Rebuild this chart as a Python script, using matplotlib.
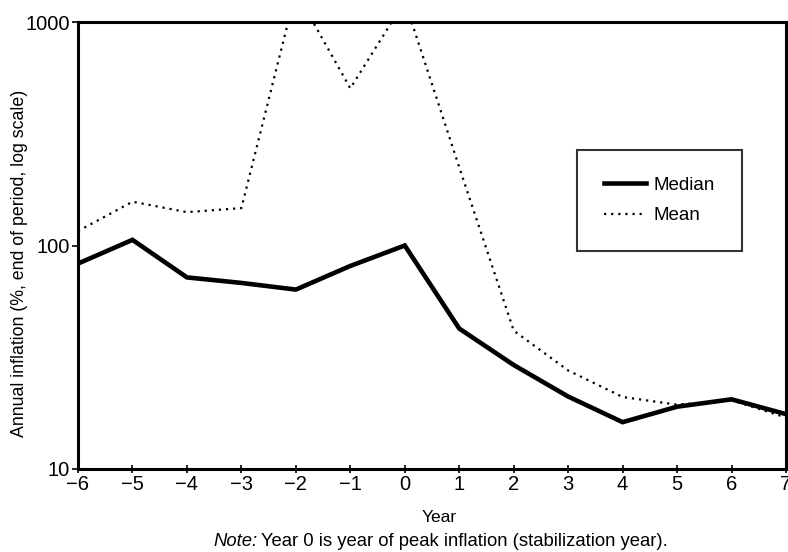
import matplotlib
matplotlib.use("Agg")
import matplotlib.pyplot as plt

years = [-6, -5, -4, -3, -2, -1, 0, 1, 2, 3, 4, 5, 6, 7]
median = [83, 106, 72, 68, 63.5, 81, 100, 42.5, 29.2, 21.1, 16.2, 19.0, 20.5, 17.6]
mean = [116, 157, 141, 147, 1370, 505, 1240, 224, 41.6, 27.6, 21.0, 19.4, 20.3, 17.0]
xticks = list(range(-6, 8))
yticks = [10, 100, 1000]

plt.rcParams['font.family'] = ['Liberation Sans', 'DejaVu Sans']

fig = plt.figure(figsize=(7.88, 5.52), dpi=100)
ax = fig.add_axes([78/788, 1-469/552, (786-78)/788, (469-22)/552])

ax.plot(years, median, color='black', lw=3.3, solid_joinstyle='miter', label='Median')
ax.plot(years, mean, color='black', lw=1.6, linestyle=(0, (1, 2.2)), label='Mean')

ax.set_yscale('log')
ax.set_ylim(10, 1000)
ax.set_xlim(-6, 7)
ax.set_xticks(xticks)
ax.set_xticklabels([str(v).replace('-', '\u2212') for v in xticks])
ax.set_yticks(yticks)
ax.set_yticklabels([str(v) for v in yticks])
ax.yaxis.set_minor_locator(matplotlib.ticker.NullLocator())
ax.tick_params(axis='x', direction='inout', length=6, width=1.2, labelsize=14.5, pad=1)
ax.tick_params(axis='y', direction='out', length=4, width=1.2, labelsize=14.5, pad=2)
for s in ax.spines.values():
    s.set_linewidth(2.2)

fig.text(439/788, 1-517/552, 'Year', fontsize=12.5, ha='center', va='center')
fig.text(20/788, 1-263/552, 'Annual inflation (%, end of period, log scale)',
         rotation=90, ha='center', va='center', fontsize=12.8)

fig.canvas.draw()
note_y = 1-542/552
t1 = fig.text(213/788, note_y, 'Note:', fontstyle='italic', fontsize=13.3, ha='left', va='center')
r = fig.canvas.get_renderer()
bb = t1.get_window_extent(renderer=r)
fig.text((bb.x1 + 4)/788, note_y, 'Year 0 is year of peak inflation (stabilization year).',
         fontsize=13.3, ha='left', va='center')

leg = ax.legend(loc='center', bbox_to_anchor=((576+743)/2/788, 1-(152+249)/2/552),
                bbox_transform=fig.transFigure, fontsize=13.5, frameon=True, fancybox=False,
                handlelength=2.2, handletextpad=0.4, borderpad=1.45, labelspacing=0.7)
leg.get_frame().set_edgecolor('black')
leg.get_frame().set_linewidth(1.5)

fig.savefig('out.png', dpi=100)
